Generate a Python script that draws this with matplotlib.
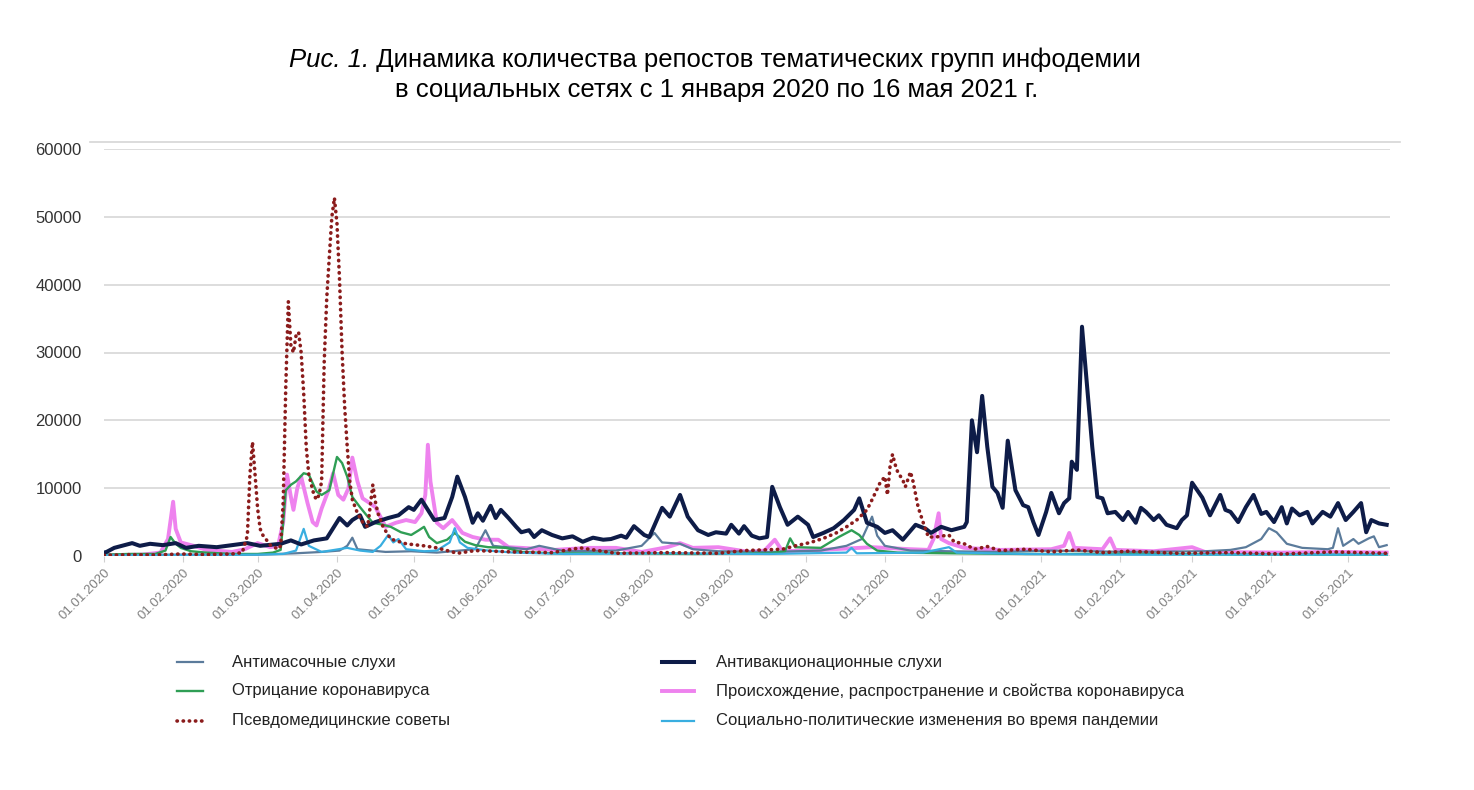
import numpy as np
import pandas as pd
import matplotlib
matplotlib.use("Agg")
import matplotlib.pyplot as plt
import matplotlib.dates as mdates
from matplotlib.lines import Line2D

START = pd.Timestamp("2020-01-01")

# (day since 01.01.2020, reposts)
antimask = [(0,100),(20,200),(40,200),(60,200),(75,400),(85,600),(92,800),(95,1500),(97,2700),(99,1000),
            (110,600),(120,700),(130,500),(145,1000),(149,3800),(152,1500),(165,1000),(170,1500),(180,700),
            (200,800),(210,1500),(215,3400),(218,2000),(225,1800),(230,1000),(240,700),(260,600),(280,800),
            (290,1500),(296,2500),(300,5800),(302,3000),(305,1500),(315,800),(330,700),(350,600),(370,800),
            (400,600),(430,700),(440,900),(446,1300),(452,2500),(455,4100),(458,3500),(462,1800),(468,1200),
            (478,1000),(480,1200),(482,4100),(484,1500),(488,2500),(490,1800),(494,2600),(496,2900),(498,1300),
            (501,1600)]

antivax = [(0,500),(1,600),(4,1200),(11,1900),(14,1500),(18,1800),(23,1600),(28,1900),(32,1200),(37,1500),
           (44,1300),(50,1600),(56,1900),(61,1500),(69,1800),(73,2300),(77,1700),(82,2300),(87,2600),(92,5600),
           (95,4500),(97,5300),(100,6000),(102,4300),(106,5000),(111,5600),(115,6000),(119,7200),(121,6800),
           (124,8300),(127,6500),(129,5300),(133,5600),(136,8700),(138,11700),(141,8700),(144,4900),(146,6300),
           (148,5200),(151,7400),(153,5600),(155,6800),(158,5600),(161,4300),(163,3500),(166,3800),(168,2800),
           (171,3800),(175,3100),(179,2600),(183,2900),(187,2100),(191,2700),(195,2400),(198,2500),(202,3000),
           (204,2700),(207,4400),(211,3100),(213,2800),(218,7100),(221,5800),(225,9000),(228,5800),(232,3800),
           (236,3100),(239,3500),(243,3300),(245,4600),(248,3300),(250,4400),(253,3000),(256,2600),(259,2800),
           (261,10200),(264,7200),(267,4600),(271,5800),(275,4600),(277,2800),(281,3400),(285,4100),(289,5300),
           (293,6800),(295,8500),(298,4900),(302,4300),(305,3400),(308,3800),(312,2400),(317,4600),(321,4000),
           (323,3400),(327,4300),(331,3800),(336,4300),(337,5000),(339,20000),(341,15300),(343,23600),(345,16100),
           (347,10200),(349,9300),(351,7100),(353,17000),(356,9700),(359,7500),(361,7200),(363,5000),(365,3100),
           (368,6500),(370,9300),(373,6300),(375,7800),(377,8500),(378,13900),(380,12700),(382,33800),(386,16100),
           (388,8700),(390,8500),(392,6300),(395,6500),(398,5300),(400,6500),(403,4900),(405,7100),(407,6500),
           (410,5300),(412,6000),(415,4600),(419,4100),(421,5300),(423,6000),(425,10800),(427,9700),(429,8600),
           (432,6000),(434,7500),(436,9000),(438,6800),(440,6500),(443,5000),(446,7200),(449,9000),(452,6200),
           (454,6500),(457,5000),(460,7200),(462,4800),(464,7000),(467,6000),(470,6500),(472,4800),(476,6500),
           (479,5800),(482,7800),(485,5300),(488,6500),(491,7800),(493,3500),(495,5300),(498,4800),(501,4600)]

denial = [(0,200),(10,300),(20,300),(24,800),(26,2800),(28,1800),(30,1200),(34,700),(40,500),(50,300),(60,300),
          (66,500),(69,900),(70,5000),(71,9700),(73,10500),(75,11000),(78,12200),(80,12000),(83,9500),(85,9000),
          (88,9700),(90,13000),(91,14600),(93,13700),(95,11700),(97,8700),(100,7200),(103,5800),(105,4900),
          (109,4600),(112,4300),(116,3500),(120,3100),(123,3800),(125,4300),(127,2800),(130,1900),(134,2400),
          (137,3400),(141,2100),(145,1600),(150,1300),(157,1200),(163,600),(175,400),(200,400),(230,300),
          (260,400),(266,700),(268,2600),(270,1300),(280,1200),(287,2800),(292,3800),(295,3100),(298,1800),
          (302,800),(310,500),(330,400),(360,300),(400,300),(450,200),(501,200)]

origin = [(0,100),(15,200),(22,500),(25,2500),(27,8000),(28,4000),(30,2000),(35,1500),(40,900),(50,600),
          (55,1000),(60,1900),(65,1300),(68,1500),(70,5000),(71.5,12000),(73,8700),(74,6800),(75.5,10000),
          (77,11700),(79.5,7800),(81.5,5000),(83,4500),(85,7000),(87.5,9500),(89.5,12200),(91.5,9000),
          (93.5,8300),(95.5,10000),(97,14500),(99,11000),(101,8500),(103,8000),(106,7200),(110,4300),(114,4900),
          (118,5300),(121.5,5000),(124,6300),(125.5,9000),(126.5,16400),(127.5,11000),(130,4900),(132.5,4100),
          (136,5300),(140,3400),(144,2800),(149,2400),(154,2400),(158,1300),(163,1200),(176,900),(189,1200),
          (200,1200),(210,600),(220,1300),(225,1900),(230,1200),(240,1300),(252,600),(258,800),(262,2400),
          (265,700),(280,900),(300,1300),(315,1000),(322,900),(324,2500),(326,6300),(327,2500),(330,1900),
          (336,1200),(350,900),(370,1000),(375,1500),(377,3400),(379,1200),(390,1000),(393,2600),(395,900),
          (410,700),(425,1300),(430,600),(460,500),(480,600),(501,500)]

pseudo = [(0,100),(10,200),(20,150),(30,300),(40,200),(50,300),(54,500),(56,3000),(57,12000),(58,16800),
          (59,12000),(60,7000),(61,4000),(62,3100),(65,1600),(68,1000),(69,1500),(70,8000),(71,25000),
          (72,37500),(73,31000),(74,30000),(75,32500),(76,33000),(77,30000),(78,24000),(79,16000),(80,12000),
          (82,9000),(83,8300),(84,9000),(85,11000),(86,28500),(87,38000),(88,44100),(89,50000),(90,52800),
          (91,49000),(92,40700),(93,30000),(94,22000),(95,16100),(96,11000),(97,8300),(99,6300),(101,5000),
          (103,4300),(105,10500),(106,8000),(107,6300),(109,4300),(112,2500),(118,1800),(125,1500),(130,1200),
          (138,400),(145,800),(160,600),(175,500),(186,1200),(200,400),(220,500),(240,400),(250,800),(265,1000),
          (270,1500),(276,2000),(281,2600),(286,3400),(290,4300),(294,5300),(298,6800),(300,8300),(303,10700),
          (305,11700),(306,9000),(307,13100),(308,15000),(309,13500),(310,12400),(312,11200),(313,10200),
          (315,12400),(316,11000),(318,7200),(320,4900),(322,2800),(325,2800),(330,3100),(332,2100),(336,1800),
          (340,1000),(345,1400),(350,800),(360,1000),(370,600),(380,900),(390,500),(400,700),(420,400),
          (440,500),(460,300),(480,600),(501,400)]

social = [(0,100),(30,150),(60,200),(70,300),(75,800),(78,4000),(80,1500),(85,600),(90,900),(95,1200),
          (100,800),(105,600),(108,1500),(111,3100),(113,2000),(115,2500),(118,1000),(125,700),(130,800),
          (135,2000),(137,4100),(139,2000),(142,1200),(150,800),(160,500),(180,300),(220,400),(260,300),
          (290,500),(292,1200),(294,400),(320,500),(330,1300),(333,500),(360,300),(400,200),(450,200),(501,200)]

labels = ["Антимасочные слухи", "Отрицание коронавируса", "Псевдомедицинские советы",
          "Антивакционационные слухи", "Происхождение, распространение и свойства коронавируса",
          "Социально-политические изменения во время пандемии"]

y_ticks = [0, 10000, 20000, 30000, 40000, 50000, 60000]

W, H = 1474, 790
FONT = ["Liberation Sans", "DejaVu Sans"]


def to_xy(pairs):
    d, v = zip(*pairs)
    return START + pd.to_timedelta(np.array(d, float), unit="D"), np.array(v, float)


fig = plt.figure(figsize=(W / 100, H / 100), dpi=100)
fig.patch.set_facecolor("white")
ax = fig.add_axes([104 / W, 1 - 556 / H, (1390 - 104) / W, (556 - 149) / H])

styles = {
    "antimask": dict(color="#5b7b9b", lw=1.6, zorder=3),
    "denial": dict(color="#2f9e55", lw=1.7, zorder=3),
    "pseudo": dict(color="#8b1c1c", lw=2.6, ls=(0, (0.1, 1.6)), dash_capstyle="round", zorder=6),
    "antivax": dict(color="#0e1c48", lw=2.9, zorder=5),
    "origin": dict(color="#ee82ee", lw=2.8, zorder=2),
    "social": dict(color="#39aee0", lw=1.6, zorder=4),
}
series = {"antimask": antimask, "denial": denial, "pseudo": pseudo,
          "antivax": antivax, "origin": origin, "social": social}
for key, data in series.items():
    x, y = to_xy(data)
    ax.plot(x, y, **styles[key])

ax.set_ylim(0, 60000)
ax.set_xlim(START, START + pd.Timedelta(days=502.3))
ax.set_yticks(y_ticks)
ax.set_yticklabels([str(v) for v in y_ticks], fontfamily=FONT)
ax.grid(axis="y", color="#dadada", lw=1.3)
ax.set_axisbelow(True)
for s in ax.spines.values():
    s.set_visible(False)
ax.tick_params(axis="y", length=0, pad=16, labelsize=12, labelcolor="#333333")
ax.xaxis.set_major_locator(mdates.MonthLocator(bymonthday=1))
ax.xaxis.set_major_formatter(mdates.DateFormatter("%d.%m.%Y"))
ax.tick_params(axis="x", length=4, color="#d0d0d0", pad=4, labelsize=9.5, labelcolor="#808080")
for lab in ax.get_xticklabels():
    lab.set_rotation(45)
    lab.set_ha("right")
    lab.set_va("top")
    lab.set_rotation_mode("anchor")
    lab.set_fontfamily(FONT)

# top rule
fig.add_artist(Line2D([90 / W, 1400 / W], [1 - 142 / H, 1 - 142 / H], transform=fig.transFigure,
                      color="#d5d5d5", lw=1.2))

# title
renderer = fig.canvas.get_renderer()
fs = 18.5
t1 = fig.text(0, 0, "Рис. 1.", fontsize=fs, style="italic", family=FONT, va="center")
t2 = fig.text(0, 0, " Динамика количества репостов тематических групп инфодемии", fontsize=fs,
              family=FONT, va="center")
w1 = t1.get_window_extent(renderer).width
w2 = t2.get_window_extent(renderer).width
x0 = 715 - (w1 + w2) / 2
t1.set_position((x0 / W, 1 - 60 / H))
t2.set_position(((x0 + w1) / W, 1 - 60 / H))
fig.text(717 / W, 1 - 90 / H, "в социальных сетях с 1 января 2020 по 16 мая 2021 г.", fontsize=fs,
         family=FONT, ha="center", va="center")

# legend
keys = ["antimask", "denial", "pseudo", "antivax", "origin", "social"]
rows = [662, 691, 721]
for i, key in enumerate(keys):
    col = i // 3
    yy = 1 - rows[i % 3] / H
    hx = (177, 203) if col == 0 else (662, 694)
    tx = 232 if col == 0 else 716
    st = dict(styles[key])
    st.pop("zorder", None)
    fig.add_artist(Line2D([hx[0] / W, hx[1] / W], [yy, yy], transform=fig.transFigure, **st))
    fig.text(tx / W, yy, labels[i], fontsize=12, family=FONT, va="center", color="#222222")

fig.savefig("out.png", dpi=100, facecolor="white")
